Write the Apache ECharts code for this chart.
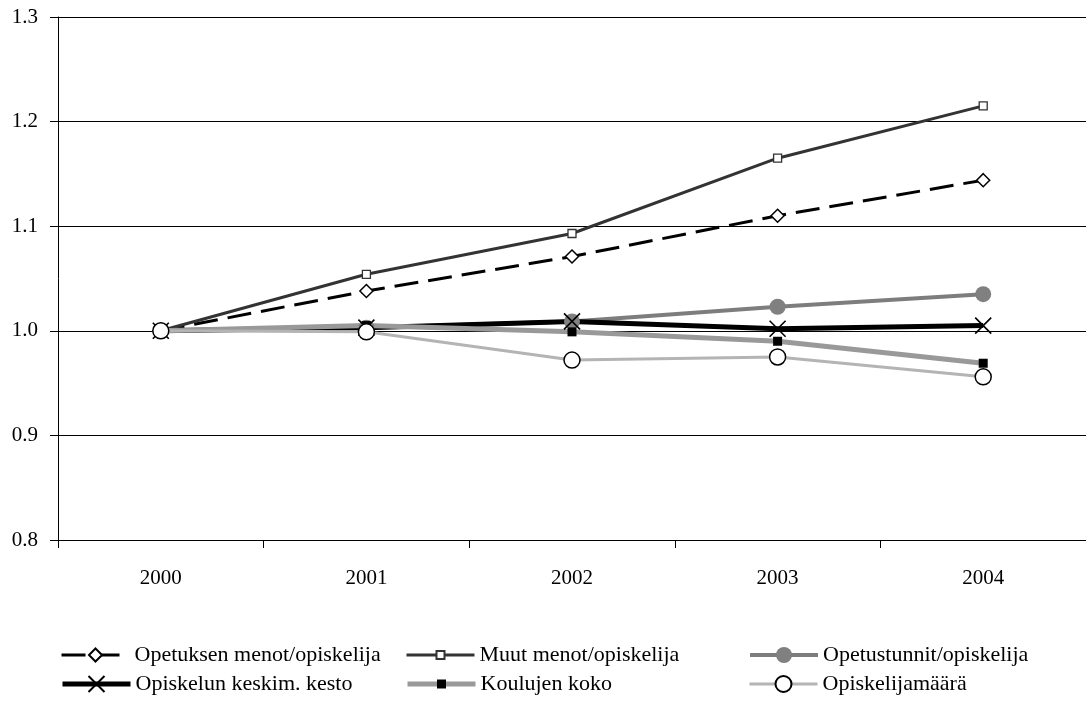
<!DOCTYPE html>
<html>
<head>
<meta charset="utf-8">
<title>Indeksit 2000–2004</title>
<script src="https://cdn.jsdelivr.net/npm/echarts@6/dist/echarts.min.js"></script>
<style>
  html, body { margin: 0; padding: 0; background: #fff; }
  #chart { width: 1086px; height: 702px; }
</style>
</head>
<body>
<div id="chart"></div>
<script>
// Years on the category axis
var years = ['2000', '2001', '2002', '2003', '2004'];

// Index series (2000 = 1.0)
var opetuksenMenot = [1.000, 1.038, 1.071, 1.110, 1.144];
var muutMenot = [1.000, 1.054, 1.093, 1.165, 1.215];
var opetustunnit = [1.000, 1.003, 1.009, 1.023, 1.035];
var keskimKesto = [1.000, 1.003, 1.009, 1.002, 1.005];
var koulujenKoko = [1.000, 1.005, 0.999, 0.990, 0.969];
var opiskelijamaara = [1.000, 0.999, 0.972, 0.975, 0.956];

var seriesNames = [
  'Opetuksen menot/opiskelija',
  'Muut menot/opiskelija',
  'Opetustunnit/opiskelija',
  'Opiskelun keskim. kesto',
  'Koulujen koko',
  'Opiskelijamäärä'
];

var FONT = '"Liberation Serif", "Times New Roman", serif';
var crossPath = 'path://M0,0L10,10M10,0L0,10';

var series = [
  {
    name: seriesNames[0], data: opetuksenMenot,
    lineStyle: { color: '#000', width: 3, type: [24, 10] },
    symbol: 'diamond', symbolSize: 13,
    itemStyle: { color: '#fff', borderColor: '#000', borderWidth: 1.5 }
  },
  {
    name: seriesNames[1], data: muutMenot,
    lineStyle: { color: '#333', width: 3 },
    symbol: 'rect', symbolSize: 8,
    itemStyle: { color: '#fff', borderColor: '#333', borderWidth: 1.3 }
  },
  {
    name: seriesNames[2], data: opetustunnit,
    lineStyle: { color: '#7d7d7d', width: 4 },
    symbol: 'circle', symbolSize: 16,
    itemStyle: { color: '#808080', borderColor: '#808080', borderWidth: 0 }
  },
  {
    name: seriesNames[3], data: keskimKesto,
    lineStyle: { color: '#000', width: 5 },
    symbol: crossPath, symbolSize: 16,
    itemStyle: { color: 'none', borderColor: '#000', borderWidth: 1.6 }
  },
  {
    name: seriesNames[4], data: koulujenKoko,
    lineStyle: { color: '#999', width: 5 },
    symbol: 'rect', symbolSize: 9,
    itemStyle: { color: '#000', borderColor: '#000', borderWidth: 0 }
  },
  {
    name: seriesNames[5], data: opiskelijamaara,
    lineStyle: { color: '#b4b4b4', width: 3 },
    symbol: 'circle', symbolSize: 16,
    itemStyle: { color: '#fff', borderColor: '#000', borderWidth: 1.5 }
  }
].map(function (s) {
  s.type = 'line';
  s.showAllSymbol = true;
  s.emphasis = { disabled: true };
  return s;
});

// One legend entry per slot: three columns, two rows.
// The legend marker is drawn at 0.8 of itemHeight, so itemHeight follows the series symbol size;
// the text box (about 22px tall) sets the height of each entry.
var legendLeft = [60, 405, 748];
var legendRowCenter = [655, 684];
var legends = series.map(function (s, i) {
  var h = s.symbolSize / 0.8;
  return {
    data: [s.name],
    left: legendLeft[i % 3],
    top: legendRowCenter[Math.floor(i / 3)] - Math.max(h, 22) / 2,
    itemWidth: 68,
    itemHeight: h,
    itemGap: 0,
    padding: 0,
    selectedMode: false,
    lineStyle: { width: 'inherit' },
    textStyle: { fontFamily: FONT, fontSize: 22, color: '#000' }
  };
});

var chart = echarts.init(document.getElementById('chart'), null, { renderer: 'canvas' });
chart.setOption({
  animation: false,
  backgroundColor: '#fff',
  grid: { left: 58, right: -4.5, top: 17, bottom: 162, containLabel: false },
  legend: legends,
  xAxis: {
    type: 'category',
    data: years,
    boundaryGap: true,
    axisLine: { lineStyle: { color: '#000', width: 1 } },
    axisTick: { show: true, alignWithLabel: false, length: 8, lineStyle: { color: '#000' } },
    axisLabel: { fontFamily: FONT, fontSize: 21, color: '#000', margin: 28 },
    splitLine: { show: false }
  },
  yAxis: {
    type: 'value',
    min: 0.8, max: 1.3, interval: 0.1,
    axisLine: { show: true, lineStyle: { color: '#000', width: 1 } },
    axisTick: { show: true, length: 8, lineStyle: { color: '#000' } },
    axisLabel: {
      fontFamily: FONT, fontSize: 21, color: '#000', margin: 20,
      formatter: function (v) { return v.toFixed(1); }
    },
    splitLine: { show: true, lineStyle: { color: '#000', width: 1 } }
  },
  series: series
});
</script>
</body>
</html>
